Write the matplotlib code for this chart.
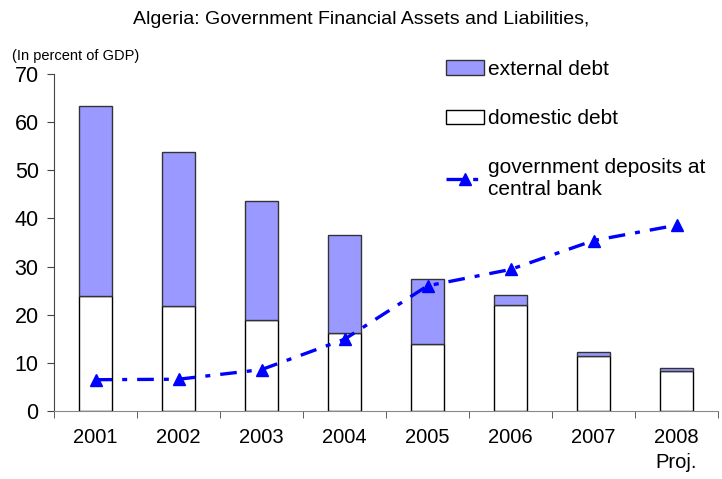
import matplotlib.pyplot as plt
import numpy as np
from matplotlib.patches import Patch
from matplotlib.lines import Line2D

plt.rcParams['font.family'] = ['Liberation Sans', 'DejaVu Sans']

years = ['2001', '2002', '2003', '2004', '2005', '2006', '2007', '2008\nProj.']
domestic_debt = [23.8, 21.8, 18.9, 16.3, 14.0, 22.0, 11.5, 8.3]
total_debt = [63.4, 53.8, 43.7, 36.6, 27.5, 24.0, 12.2, 8.9]
external_debt = [t - d for t, d in zip(total_debt, domestic_debt)]
gov_deposits = [6.5, 6.6, 8.6, 14.9, 26.0, 29.4, 35.4, 38.6]

fig = plt.figure(figsize=(7.22, 4.79), dpi=100)
ax = fig.add_axes([54/722, 1 - 411/479, 664/722, 337/479])

x = np.arange(len(years))
ax.bar(x, domestic_debt, width=0.4, color='white', edgecolor='black', linewidth=1.0, zorder=2)
ax.bar(x, external_debt, width=0.4, bottom=domestic_debt, color='#9999FF',
       edgecolor='#333333', linewidth=1.0, zorder=2)
ax.plot(x, gov_deposits, color='#0000FF', lw=2.4, dashes=(5, 3, 1.5, 3),
        marker='^', markersize=9, zorder=3)

ax.set_xlim(-0.5, len(years) - 0.5)
ax.set_ylim(0, 70)
ax.set_yticks(range(0, 71, 10))
ax.set_xticks(x)
ax.set_xticklabels(years, fontsize=14.5, linespacing=1.4)
ax.set_xticks(np.arange(-0.5, len(years)), minor=True)
ax.tick_params(axis='x', which='major', length=0, pad=12)
ax.tick_params(axis='x', which='minor', length=5, color='#444444', direction='out')
ax.tick_params(axis='y', labelsize=15.5, length=5, color='#444444', pad=6)
for s in ['top', 'right']:
    ax.spines[s].set_visible(False)
ax.spines['left'].set_color('#444444')
ax.spines['bottom'].set_color('#888888')

fig.text(0.5, 1 - 19/479, 'Algeria: Government Financial Assets and Liabilities,',
         ha='center', va='center', fontsize=14)
fig.text(12/722, 1 - 56/479, '(In percent of GDP)', ha='left', va='center', fontsize=10.5)

handles = [
    Patch(facecolor='#9999FF', edgecolor='#333333'),
    Patch(facecolor='white', edgecolor='black'),
    Line2D([], [], color='#0000FF', lw=2.4, dashes=(5, 3, 1.5, 3), marker='^', markersize=9),
]
labels = ['external debt', 'domestic debt', 'government deposits at\ncentral bank']
ax.legend(handles, labels, loc='upper left', bbox_to_anchor=(446/722, 1 - 60/479),
          bbox_transform=fig.transFigure, frameon=False, fontsize=15,
          labelspacing=1.45, handlelength=1.8, handletextpad=0.2, borderaxespad=0,
          borderpad=0)

fig.savefig('out.png', dpi=100)
